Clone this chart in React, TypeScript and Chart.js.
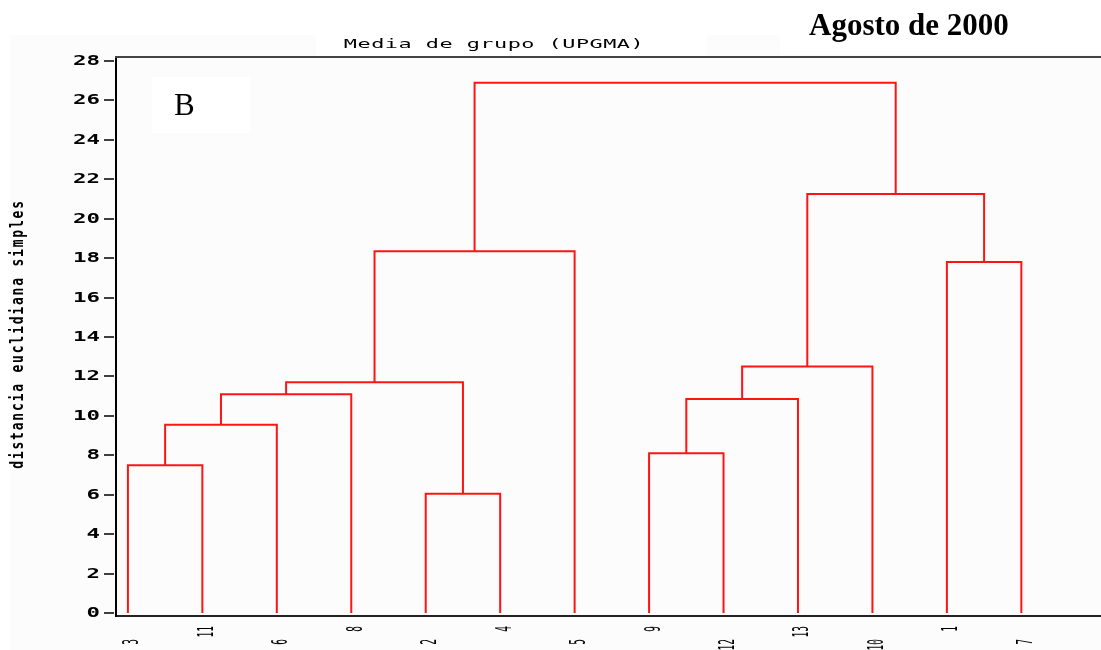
import { useEffect, useRef } from 'react';
import { Chart, registerables } from 'chart.js';

Chart.register(...registerables);

// Leaf order along the bottom axis
const leafLabels = ['3', '11', '6', '8', '2', '4', '5', '9', '12', '13', '10', '1', '7'];

// Agglomeration steps: node ids 0..12 are leaves, each merge k creates node 13 + k
const mergeLeft = [0, 13, 14, 4, 15, 17, 7, 19, 20, 11, 21, 18];
const mergeRight = [1, 2, 3, 5, 16, 6, 8, 9, 10, 12, 22, 23];
const mergeHeight = [7.5, 9.55, 11.1, 6.05, 11.7, 18.35, 8.1, 10.85, 12.5, 17.8, 21.25, 26.9];

const yTicks = [0, 2, 4, 6, 8, 10, 12, 14, 16, 18, 20, 22, 24, 26, 28];

const chartTitle = 'Media de grupo (UPGMA)';
const yTitle = 'distancia euclidiana simples';
const dateLabel = 'Agosto de 2000';
const panelLabel = 'B';

function buildLinks() {
  const n = leafLabels.length;
  const pos: number[] = leafLabels.map((_, i) => i);
  const h: number[] = leafLabels.map(() => 0);
  const links: { x: number; y: number }[][] = [];
  mergeHeight.forEach((mh, k) => {
    const l = mergeLeft[k];
    const r = mergeRight[k];
    links.push([
      { x: pos[l], y: h[l] },
      { x: pos[l], y: mh },
      { x: pos[r], y: mh },
      { x: pos[r], y: h[r] },
    ]);
    pos[n + k] = (pos[l] + pos[r]) / 2;
    h[n + k] = mh;
  });
  return links;
}

const decorations = {
  id: 'decorations',
  beforeDraw(chart: any) {
    const ctx = chart.ctx;
    ctx.save();
    ctx.fillStyle = '#ffffff';
    ctx.fillRect(0, 0, chart.width, chart.height);
    ctx.fillStyle = '#fcfcfc';
    ctx.fillRect(10, 35, chart.width - 10, chart.height - 35);
    ctx.fillStyle = '#ffffff';
    ctx.fillRect(316, 35, 391, 21);
    ctx.fillRect(152, 77, 98, 56);
    ctx.fillRect(780, 0, chart.width - 780, 55);
    ctx.restore();
  },
  afterDraw(chart: any) {
    const ctx = chart.ctx;
    const xs = chart.scales.x;
    const ys = chart.scales.y;
    const area = chart.chartArea;
    ctx.save();

    // top frame line
    ctx.strokeStyle = '#444';
    ctx.lineWidth = 2;
    ctx.beginPath();
    ctx.moveTo(area.left - 1, area.top);
    ctx.lineTo(chart.width, area.top);
    ctx.stroke();

    // y tick marks and labels
    ctx.fillStyle = '#000';
    ctx.strokeStyle = '#000';
    ctx.lineWidth = 1.5;
    ctx.font = 'bold 14px "DejaVu Sans Mono"';
    ctx.textBaseline = 'middle';
    ctx.textAlign = 'right';
    yTicks.forEach((v) => {
      const py = Math.round(ys.getPixelForValue(v));
      ctx.beginPath();
      ctx.moveTo(area.left - 12, py);
      ctx.lineTo(area.left - 2, py);
      ctx.stroke();
      ctx.save();
      ctx.translate(area.left - 16, py);
      ctx.scale(1.6, 1);
      ctx.fillText(String(v), 0, 0);
      ctx.restore();
    });

    // x labels, rotated, alternating two rows
    ctx.font = '9.5px "DejaVu Sans Mono"';
    ctx.textAlign = 'right';
    ctx.textBaseline = 'middle';
    leafLabels.forEach((lab, i) => {
      const px = xs.getPixelForValue(i) + 5;
      const py = i % 2 === 0 ? 639 : 626;
      ctx.save();
      ctx.translate(px, py);
      ctx.scale(2.2, 1);
      ctx.rotate(-Math.PI / 2);
      ctx.fillText(lab, 0, 0);
      ctx.restore();
    });

    // y axis title
    ctx.save();
    ctx.font = 'bold 13px "DejaVu Sans Mono"';
    (ctx as any).letterSpacing = '1.8px';
    ctx.textAlign = 'center';
    ctx.textBaseline = 'middle';
    ctx.translate(19, 334);
    ctx.scale(1.3, 1);
    ctx.rotate(-Math.PI / 2);
    ctx.fillText(yTitle, 0, 0);
    ctx.restore();

    // chart title
    ctx.save();
    ctx.font = '13px "DejaVu Sans Mono"';
    (ctx as any).letterSpacing = '0.3px';
    ctx.textAlign = 'center';
    ctx.textBaseline = 'middle';
    ctx.translate(494, 45);
    ctx.scale(1.68, 1);
    ctx.fillText(chartTitle, 0, 0);
    ctx.restore();

    // panel letter and date
    ctx.textAlign = 'left';
    ctx.textBaseline = 'alphabetic';
    ctx.font = '31px "Liberation Serif"';
    ctx.fillText(panelLabel, 174, 115);
    ctx.font = 'bold 31px "Liberation Serif"';
    ctx.fillText(dateLabel, 809, 35);

    ctx.restore();
  },
};

export default function App() {
  const canvasRef = useRef<HTMLCanvasElement | null>(null);

  useEffect(() => {
    document.body.style.margin = '0';
    const canvas = canvasRef.current;
    if (!canvas) return;
    const links = buildLinks();
    const chart = new Chart(canvas, {
      type: 'scatter',
      data: {
        datasets: links.map((pts) => ({
          data: pts,
          showLine: true,
          borderColor: '#ff1414',
          borderWidth: 2,
          pointRadius: 0,
          tension: 0,
          fill: false,
          borderJoinStyle: 'miter' as const,
        })),
      },
      options: {
        responsive: false,
        animation: false,
        events: [],
        layout: { padding: { left: 116, top: 57, right: 0, bottom: 34 } },
        plugins: {
          legend: { display: false },
          tooltip: { enabled: false },
          title: { display: false },
        },
        scales: {
          x: {
            type: 'linear',
            min: -0.16,
            max: 13.07,
            grid: { display: false, drawTicks: false },
            ticks: { display: false },
            border: { display: true, color: '#222', width: 2 },
            afterFit: (s: any) => {
              s.height = 0;
            },
          },
          y: {
            type: 'linear',
            min: -0.15,
            max: 28.2,
            grid: { display: false, drawTicks: false },
            ticks: { display: false },
            border: { display: true, color: '#000', width: 2 },
            afterFit: (s: any) => {
              s.width = 0;
            },
          },
        },
      },
      plugins: [decorations],
    });
    return () => chart.destroy();
  }, []);

  return (
    <div style={{ width: 1101, height: 650 }}>
      <canvas ref={canvasRef} width={1101} height={650} />
    </div>
  );
}
